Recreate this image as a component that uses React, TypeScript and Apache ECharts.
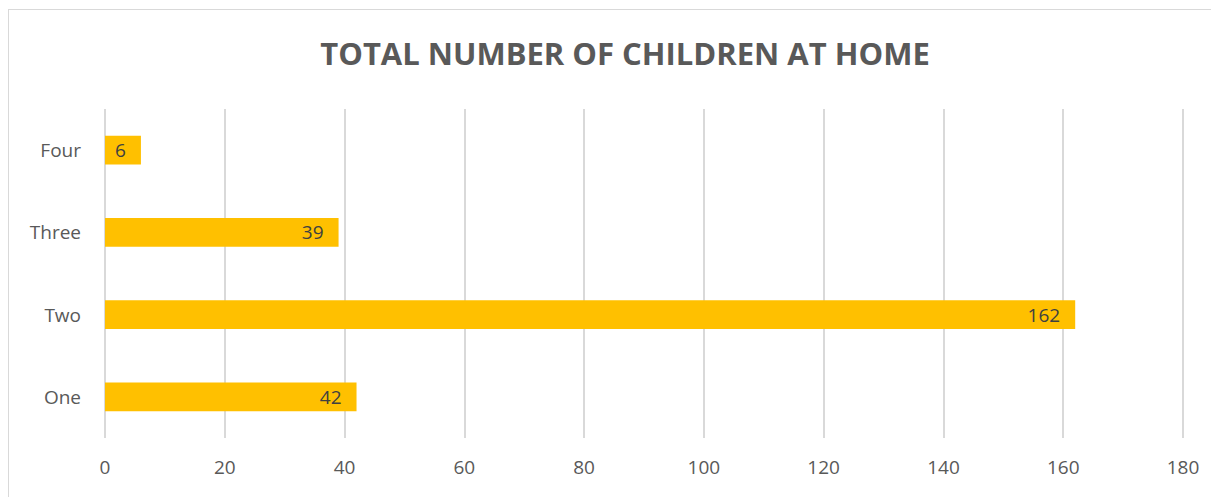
import React, { useEffect, useRef } from "react";
import * as echarts from "echarts";

const categories = ["One", "Two", "Three", "Four"];
const values = [42, 162, 39, 6];
const chartTitle = "TOTAL NUMBER OF CHILDREN AT HOME";

export default function App() {
  const ref = useRef<HTMLDivElement>(null);
  useEffect(() => {
    document.body.style.overflow = "hidden";
    const chart = echarts.init(ref.current!, undefined, { renderer: "svg" });
    chart.setOption({
      animation: false,
      title: {
        text: chartTitle,
        left: 611,
        textAlign: "center",
        top: 22,
        textStyle: {
          fontFamily: "Open Sans",
          fontSize: 31,
          fontWeight: "bold",
          color: "#595959",
        },
      },
      grid: { left: 96, right: 36, top: 99, bottom: 59 },
      xAxis: {
        type: "value",
        min: 0,
        max: 180,
        interval: 20,
        axisLine: { show: false },
        axisTick: { show: false },
        axisLabel: {
          color: "#595959",
          fontSize: 19,
          fontFamily: "Open Sans",
          margin: 19,
        },
        splitLine: { lineStyle: { color: "#d9d9d9", width: 2 } },
      },
      yAxis: {
        type: "category",
        data: categories,
        axisLine: { show: false },
        axisTick: { show: false },
        axisLabel: {
          color: "#595959",
          fontSize: 19,
          fontFamily: "Open Sans",
          margin: 24,
        },
      },
      series: [
        {
          type: "bar",
          data: values,
          barWidth: "35%",
          itemStyle: { color: "#FFC000" },
          label: {
            show: true,
            position: "insideRight",
            distance: 15,
            color: "#404040",
            fontSize: 19,
            fontFamily: "Open Sans",
          },
        },
      ],
    });
    return () => chart.dispose();
  }, []);
  return (
    <div
      ref={ref}
      style={{
        width: 1211,
        height: 488,
        marginTop: 1,
        boxSizing: "border-box",
        borderTop: "1px solid #d9d9d9",
        borderLeft: "1px solid #d9d9d9",
      }}
    />
  );
}
